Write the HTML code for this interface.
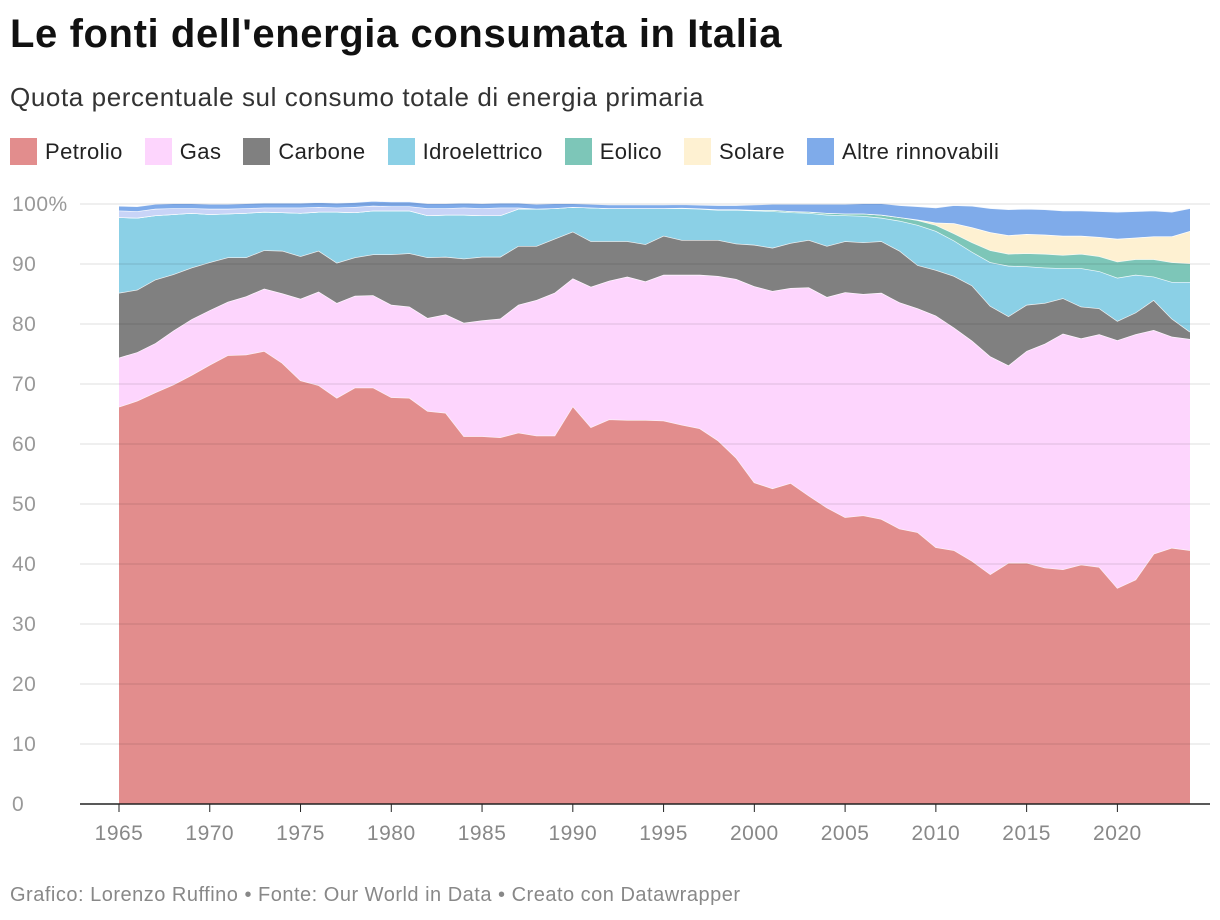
<!DOCTYPE html>
<html><head><meta charset="utf-8"><style>
body{margin:0;background:#fff;font-family:"Liberation Sans",Roboto,sans-serif;}
#wrap{position:relative;width:1220px;height:920px;overflow:hidden}
h1{position:absolute;left:10px;top:12px;margin:0;font-size:40px;font-weight:bold;color:#111;letter-spacing:0.6px}
.sub{position:absolute;left:10px;top:82px;font-size:26px;color:#333;letter-spacing:0.6px}
.legend{position:absolute;left:10px;top:138px;font-size:22px;color:#222;display:flex;letter-spacing:0.4px}
.li{display:flex;align-items:center;margin-right:22px}
.sw{width:27px;height:27px;margin-right:8px}
.foot{position:absolute;left:10px;top:884px;font-size:20px;color:#888;letter-spacing:0.5px}
</style></head><body>
<div id="wrap">
<h1>Le fonti dell'energia consumata in Italia</h1>
<div class="sub">Quota percentuale sul consumo totale di energia primaria</div>
<div class="legend">
<div class="li"><div class="sw" style="background:#e28d8d"></div>Petrolio</div>
<div class="li"><div class="sw" style="background:#fdd5fd"></div>Gas</div>
<div class="li"><div class="sw" style="background:#808080"></div>Carbone</div>
<div class="li"><div class="sw" style="background:#8bd0e6"></div>Idroelettrico</div>
<div class="li"><div class="sw" style="background:#7dc6b8"></div>Eolico</div>
<div class="li"><div class="sw" style="background:#fef1d2"></div>Solare</div>
<div class="li"><div class="sw" style="background:#7fabea"></div>Altre rinnovabili</div>
</div>
<svg id="chart" width="1220" height="920" style="position:absolute;left:0;top:0"></svg>
<div class="foot">Grafico: Lorenzo Ruffino • Fonte: Our World in Data • Creato con Datawrapper</div>
</div>
<script>
const years=[];for(let y=1965;y<=2024;y++)years.push(y);
const petrolio=[66.2,67.2,68.6,69.9,71.5,73.2,74.8,74.9,75.5,73.5,70.6,69.8,67.7,69.4,69.4,67.8,67.7,65.5,65.2,61.3,61.3,61.1,61.9,61.4,61.4,66.3,62.8,64.1,64.0,64.0,63.9,63.2,62.6,60.6,57.7,53.6,52.6,53.5,51.4,49.4,47.8,48.1,47.5,45.9,45.3,42.8,42.3,40.5,38.3,40.2,40.2,39.4,39.1,39.9,39.5,36.0,37.4,41.7,42.7,42.3];
const gas=[8.2,8.1,8.2,9.0,9.3,9.1,8.9,9.7,10.4,11.6,13.6,15.6,15.8,15.3,15.4,15.4,15.2,15.5,16.4,18.9,19.3,19.8,21.3,22.6,23.8,21.3,23.4,23.1,23.9,23.1,24.3,25.0,25.6,27.4,29.8,32.7,32.9,32.5,34.7,35.1,37.5,36.9,37.7,37.7,37.3,38.6,37.1,36.7,36.3,32.9,35.3,37.3,39.3,37.7,38.8,41.3,40.9,37.3,35.2,35.2];
const carbone=[10.8,10.4,10.6,9.4,8.6,8.0,7.4,6.5,6.4,7.1,7.1,6.8,6.7,6.4,6.8,8.4,8.9,10.1,9.6,10.7,10.6,10.3,9.8,9.0,9.0,7.8,7.6,6.6,5.9,6.2,6.5,5.8,5.8,6.0,5.9,6.9,7.2,7.5,7.9,8.5,8.5,8.6,8.6,8.6,7.2,7.6,8.6,9.2,8.4,8.2,7.7,6.8,5.9,5.3,4.3,3.2,3.6,5.0,3.0,1.2];
const idro=[12.6,12.0,10.7,10.0,9.1,8.0,7.3,7.4,6.4,6.4,7.2,6.5,8.5,7.5,7.3,7.3,7.1,7.0,7.0,7.3,6.9,6.9,6.2,6.2,5.1,4.1,5.6,5.5,5.5,6.0,4.6,5.3,5.2,5.0,5.6,5.7,6.1,5.1,4.5,5.2,4.3,4.4,3.9,5.0,6.7,6.5,5.9,5.6,7.3,8.4,6.4,5.9,5.0,6.4,6.2,7.2,6.3,3.9,6.1,8.3];
const eolico=[0,0,0,0,0,0,0,0,0,0,0,0,0,0,0,0,0,0,0,0,0,0,0,0,0,0,0,0,0,0,0,0.05,0.05,0.1,0.1,0.1,0.2,0.2,0.2,0.3,0.3,0.4,0.5,0.6,0.8,1.0,1.2,1.6,2.0,2.0,2.2,2.3,2.2,2.4,2.5,2.7,2.6,2.9,3.3,3.1];
const solare=[0,0,0,0,0,0,0,0,0,0,0,0,0,0,0,0,0,0,0,0,0,0,0,0,0,0,0,0,0,0,0,0,0,0,0,0,0,0,0,0,0,0,0,0,0.1,0.4,1.7,2.5,3.0,3.1,3.2,3.2,3.2,3.0,3.2,3.8,3.6,3.8,4.3,5.4];
const nucleare=[1.1,1.1,1.1,1.0,0.8,0.9,0.8,0.8,0.7,0.8,0.9,0.8,0.7,0.9,0.8,0.7,0.7,1.2,1.1,1.2,1.2,1.3,0.2,0,0,0,0,0,0,0,0,0,0,0,0,0,0,0,0,0,0,0,0,0,0,0,0,0,0,0,0,0,0,0,0,0,0,0,0,0];
const altre=[0.8,0.8,0.8,0.8,0.8,0.8,0.8,0.8,0.8,0.8,0.8,0.8,0.8,0.8,0.8,0.8,0.8,0.8,0.8,0.8,0.8,0.8,0.8,0.8,0.8,0.6,0.6,0.6,0.6,0.6,0.6,0.6,0.6,0.7,0.7,0.9,1.0,1.2,1.3,1.5,1.6,1.7,1.9,2.0,2.2,2.5,3.0,3.6,4.0,4.3,4.2,4.2,4.2,4.2,4.3,4.5,4.4,4.3,4.1,3.8];
const yTicks=[0,10,20,30,40,50,60,70,80,90,100];
const xTicks=[1965,1970,1975,1980,1985,1990,1995,2000,2005,2010,2015,2020];
const NS='http://www.w3.org/2000/svg',svg=document.getElementById('chart');
const X=y=>119+(y-1965)*(1071/59), Y=v=>804-v*6;
function mk(t,a){const e=document.createElementNS(NS,t);for(const k in a)e.setAttribute(k,a[k]);svg.appendChild(e);return e;}
const series=[['petrolio',petrolio,'#e28d8d'],['gas',gas,'#fdd5fd'],['carbone',carbone,'#808080'],['idroelettrico',idro,'#8bd0e6'],['eolico',eolico,'#7dc6b8'],['solare',solare,'#fef1d2'],['nucleare',nucleare,'#c8d4f7'],['altre-rinnovabili',altre,'#7fabea']];
let base=years.map(()=>0);
series.forEach(([n,vals,c])=>{
  const top=base.map((b,i)=>b+vals[i]);
  let d='M'+years.map((y,i)=>X(y)+','+Y(top[i])).join('L');
  for(let i=years.length-1;i>=0;i--)d+='L'+X(years[i])+','+Y(base[i]);
  const p=mk('path',{d:d+'Z',fill:c});
  
  
  const l=mk('polyline',{points:years.map((y,i)=>X(y)+','+Y(top[i])).join(' '),fill:'none',stroke:'#fff','stroke-width':1.3,opacity:0.9});
  
  
  base=top;
});
yTicks.forEach(v=>{
  if(v>0){const g=mk('line',{x1:80,x2:1210,y1:Y(v),y2:Y(v),stroke:'rgba(0,0,0,0.1)','stroke-width':1.2});
  
  }
  const t=mk('text',{x:12,y:Y(v)+7,'font-size':21,fill:'#999','letter-spacing':0.5,'font-family':'Liberation Sans, sans-serif'});
  t.textContent=v===100?'100%':v;
  
  
});
const ax=mk('line',{x1:80,x2:1210,y1:804,y2:804,stroke:'#222','stroke-width':1.5});


xTicks.forEach(y=>{
  const tk=mk('line',{x1:X(y),x2:X(y),y1:804,y2:812,stroke:'#222','stroke-width':1});
  
  
  const t=mk('text',{x:X(y),y:840,'text-anchor':'middle','font-size':21,fill:'#888','letter-spacing':0.5,'font-family':'Liberation Sans, sans-serif'});
  t.textContent=y;
  
  
});
</script>
</body></html>
